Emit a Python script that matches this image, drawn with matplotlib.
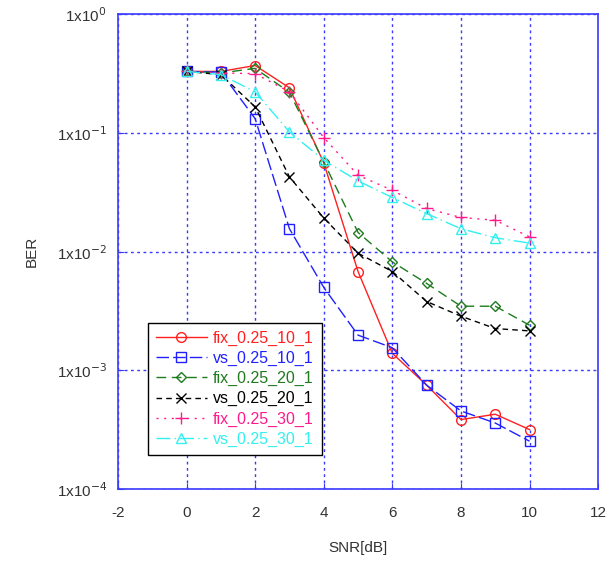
import numpy as np
import matplotlib.pyplot as plt
from matplotlib.ticker import FixedLocator, NullLocator

plt.rcParams['font.family'] = ['Liberation Sans', 'DejaVu Sans']
plt.rcParams['axes.unicode_minus'] = False

# SNR points (dB)
snr = [0, 1, 2, 3, 4, 5, 6, 7, 8, 9, 10]

# BER curves
fix_10 = [0.33, 0.33, 0.37, 0.24, 0.056, 0.0068, 0.00139, 0.00075, 0.000385, 0.000427, 0.000317]
vs_10 = [0.33, 0.325, 0.132, 0.0156, 0.005, 0.00198, 0.00155, 0.00075, 0.000455, 0.00036, 0.000253]
fix_20 = [0.33, 0.32, 0.35, 0.22, 0.057, 0.0145, 0.0082, 0.0054, 0.00347, 0.00347, 0.0024]
vs_20 = [0.33, 0.31, 0.166, 0.0426, 0.0192, 0.0097, 0.0068, 0.0038, 0.00286, 0.00225, 0.00215]
fix_30 = [0.33, 0.32, 0.316, 0.222, 0.0915, 0.044, 0.0329, 0.0231, 0.0194, 0.0184, 0.0133]
vs_30 = [0.33, 0.31, 0.222, 0.102, 0.0589, 0.0394, 0.0286, 0.0209, 0.0156, 0.0131, 0.0118]

labels = ['fix_0.25_10_1', 'vs_0.25_10_1', 'fix_0.25_20_1',
          'vs_0.25_20_1', 'fix_0.25_30_1', 'vs_0.25_30_1']

x_ticks = [-2, 0, 2, 4, 6, 8, 10, 12]
y_ticks = [1e-4, 1e-3, 1e-2, 1e-1, 1e0]
y_tick_labels = [r'1x10$^{-4}$', r'1x10$^{-3}$', r'1x10$^{-2}$', r'1x10$^{-1}$', r'1x10$^{0}$']

fig = plt.figure(figsize=(6.11, 5.7), dpi=100)
ax = fig.add_axes([0.193, 0.142, 0.786, 0.833])

ax.plot(snr, fix_10, color='#ff2020', linestyle='-', marker='o', markersize=7,
        markerfacecolor='none', linewidth=1, label=labels[0])
ax.plot(snr, vs_10, color='#2020ff', linestyle=(0, (9, 3)), marker='s', markersize=7,
        markerfacecolor='none', linewidth=1, label=labels[1])
ax.plot(snr, fix_20, color='#1e7b1e', linestyle=(0, (7, 4)), marker='D', markersize=5,
        markerfacecolor='none', linewidth=1, label=labels[2])
ax.plot(snr, vs_20, color='black', linestyle=(0, (4, 3)), marker='x', markersize=7,
        linewidth=1, label=labels[3])
ax.plot(snr, fix_30, color='#ff1a8c', linestyle=(0, (1.5, 4)), marker='+', markersize=9,
        linewidth=1, label=labels[4])
ax.plot(snr, vs_30, color='#33f0f0', linestyle=(0, (10, 3, 1, 3)), marker='^', markersize=7,
        markerfacecolor='none', linewidth=1, label=labels[5])

ax.set_yscale('log')
ax.set_xlim(-2, 12)
ax.set_ylim(1e-4, 1e0)
ax.xaxis.set_major_locator(FixedLocator(x_ticks))
ax.yaxis.set_major_locator(FixedLocator(y_ticks))
ax.yaxis.set_minor_locator(NullLocator())
ax.set_yticklabels(y_tick_labels)

ax.grid(True, color='#3a3aff', linestyle=(0, (2, 2.5)), linewidth=1)
for s in ax.spines.values():
    s.set_color('#3a3aff')
    s.set_linewidth(1.2)
ax.tick_params(axis='both', direction='in', colors='#3a3aff', length=4,
               labelcolor='#333333', labelsize=11)
ax.tick_params(axis='x', pad=12)
ax.tick_params(axis='y', pad=8)

ax.set_xlabel('SNR[dB]', fontsize=11, color='#333333')
ax.xaxis.set_label_coords(0.5, -0.124)
ax.xaxis.label.set_va('center')
ax.set_ylabel('BER', fontsize=11, color='#333333')
ax.yaxis.set_label_coords(-0.179, 0.5)
ax.yaxis.label.set_va('center')

leg = ax.legend(loc='lower left', bbox_to_anchor=(0.045, 0.055), fancybox=False,
                framealpha=1, edgecolor='black', fontsize=11.5, handlelength=3.2,
                borderpad=0.5, labelspacing=0.32, handletextpad=0.4)
leg.get_frame().set_linewidth(1)
for line, text in zip(leg.get_lines(), leg.get_texts()):
    text.set_color(line.get_color())

fig.savefig('out.png', dpi=100)
